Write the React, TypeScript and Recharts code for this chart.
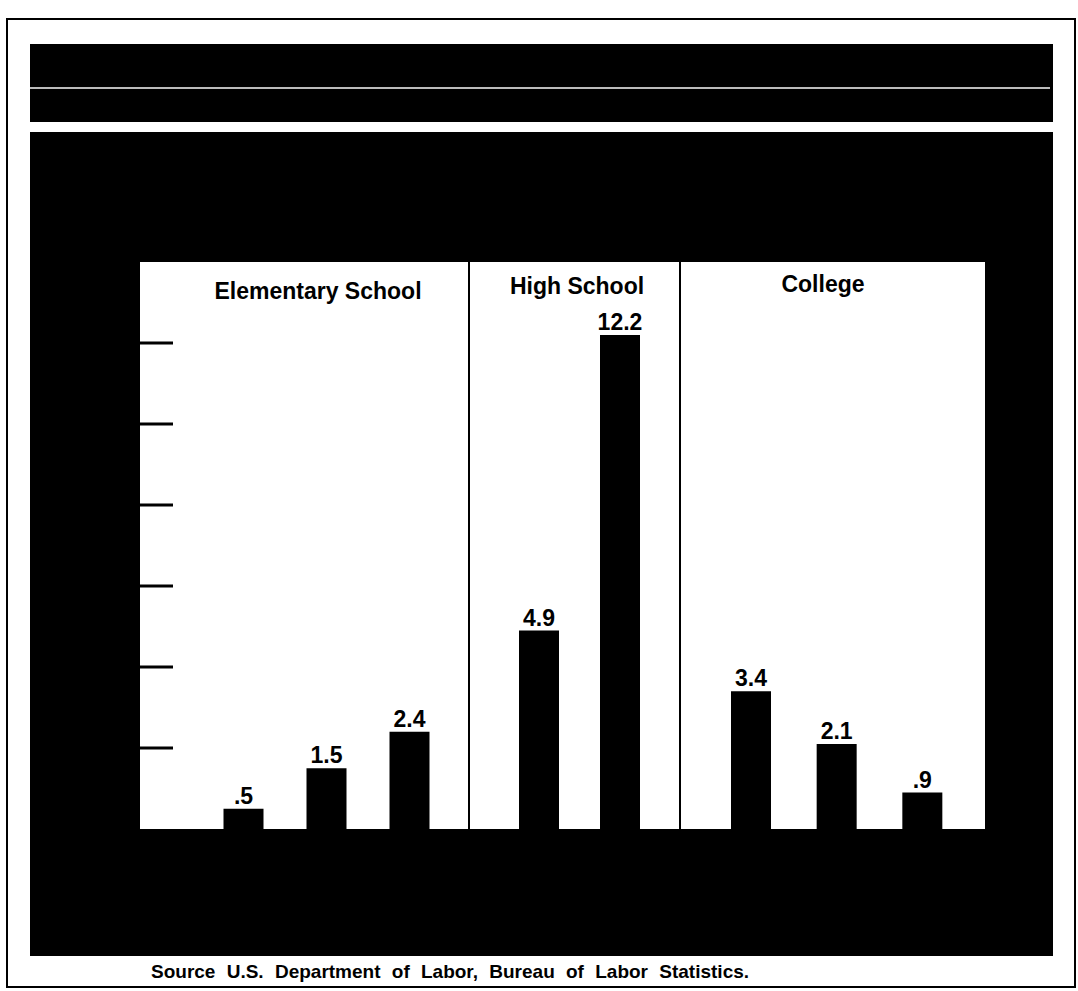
import React from 'react';
import { BarChart, Bar, XAxis, YAxis, LabelList } from 'recharts';

// values
const elementaryCats = ['e1', 'e2', 'e3'];
const elementaryValues = [0.5, 1.5, 2.4];
const highCats = ['h1', 'h2'];
const highValues = [4.9, 12.2];
const collegeCats = ['c1', 'c2', 'c3'];
const collegeValues = [3.4, 2.1, 0.9];
const yTicks = [2, 4, 6, 8, 10, 12];
const groupTitles = ['Elementary School', 'High School', 'College'];
const sourceNote = 'Source U.S. Department of Labor, Bureau of Labor Statistics.';

const FONT = '"Liberation Sans", Arial, sans-serif';
const PLOT_H = 567;

const fmt = (v: any) => (Number(v) < 1 ? String(v).replace(/^0/, '') : String(v));

// ticks carry no labels in the original, only short inward marks
const EmptyTick = () => <g />;

interface PanelProps {
  width: number;
  cats: string[];
  values: number[];
  padLeft: number;
  padRight: number;
  title: string;
  titleX: number;
  titleTop: number;
  showTicks?: boolean;
}

const Panel: React.FC<PanelProps> = ({ width, cats, values, padLeft, padRight, title, titleX, titleTop, showTicks }) => {
  const data = cats.map((c, i) => ({ cat: c, value: values[i] }));
  return (
    <div style={{ position: 'relative', width, height: PLOT_H, background: '#fff' }}>
      <BarChart width={width} height={PLOT_H} data={data} margin={{ top: 0, right: 0, bottom: 0, left: 0 }}>
        <XAxis dataKey="cat" hide padding={{ left: padLeft, right: padRight }} />
        <YAxis
          domain={[0, 14]}
          ticks={yTicks}
          interval={0}
          hide={!showTicks}
          width={1}
          mirror
          tick={EmptyTick}
          tickSize={33}
          tickLine={{ stroke: '#000', strokeWidth: 3 }}
          stroke="#000"
          axisLine={false}
        />
        <Bar dataKey="value" fill="#000" barSize={40} isAnimationActive={false}>
          <LabelList
            dataKey="value"
            position="top"
            offset={5}
            formatter={fmt}
            fill="#000"
            fontSize={23}
            fontWeight="bold"
            fontFamily={FONT}
          />
        </Bar>
      </BarChart>
      <div
        style={{
          position: 'absolute',
          left: titleX,
          top: titleTop,
          transform: 'translateX(-50%)',
          whiteSpace: 'nowrap',
          fontFamily: FONT,
          fontWeight: 'bold',
          fontSize: 23,
          lineHeight: 1,
          color: '#000',
        }}
      >
        {title}
      </div>
    </div>
  );
};

const App: React.FC = () => {
  return (
    <div style={{ position: 'absolute', left: 0, top: 0, width: 1078, height: 991, background: '#fff', overflow: 'hidden' }}>
      {/* outer frame */}
      <div style={{ position: 'absolute', left: 6, top: 18, width: 1066, height: 966, border: '2px solid #000' }} />
      {/* top band */}
      <div style={{ position: 'absolute', left: 30, top: 44, width: 1023, height: 78, background: '#000' }} />
      <div style={{ position: 'absolute', left: 30, top: 87, width: 1020, height: 2, background: '#bbb' }} />
      {/* main dark background */}
      <div style={{ position: 'absolute', left: 30, top: 132, width: 1023, height: 824, background: '#000' }} />
      {/* plot panels */}
      <div style={{ position: 'absolute', left: 140, top: 262, display: 'flex', background: '#000' }}>
        <Panel
          width={328}
          cats={elementaryCats}
          values={elementaryValues}
          padLeft={61.5}
          padRight={17.5}
          title={groupTitles[0]}
          titleX={178}
          titleTop={18}
          showTicks
        />
        <div style={{ width: 2, height: PLOT_H, background: '#000' }} />
        <Panel
          width={209}
          cats={highCats}
          values={highValues}
          padLeft={28}
          padRight={19}
          title={groupTitles[1]}
          titleX={107}
          titleTop={13}
        />
        <div style={{ width: 2, height: PLOT_H, background: '#000' }} />
        <Panel
          width={304}
          cats={collegeCats}
          values={collegeValues}
          padLeft={27}
          padRight={20}
          title={groupTitles[2]}
          titleX={142}
          titleTop={11}
        />
      </div>
      {/* source note */}
      <div
        style={{
          position: 'absolute',
          left: 151,
          top: 962,
          fontFamily: FONT,
          fontWeight: 'bold',
          fontSize: 19,
          lineHeight: 1,
          wordSpacing: 6,
          whiteSpace: 'nowrap',
          color: '#000',
        }}
      >
        {sourceNote}
      </div>
    </div>
  );
};

export default App;
